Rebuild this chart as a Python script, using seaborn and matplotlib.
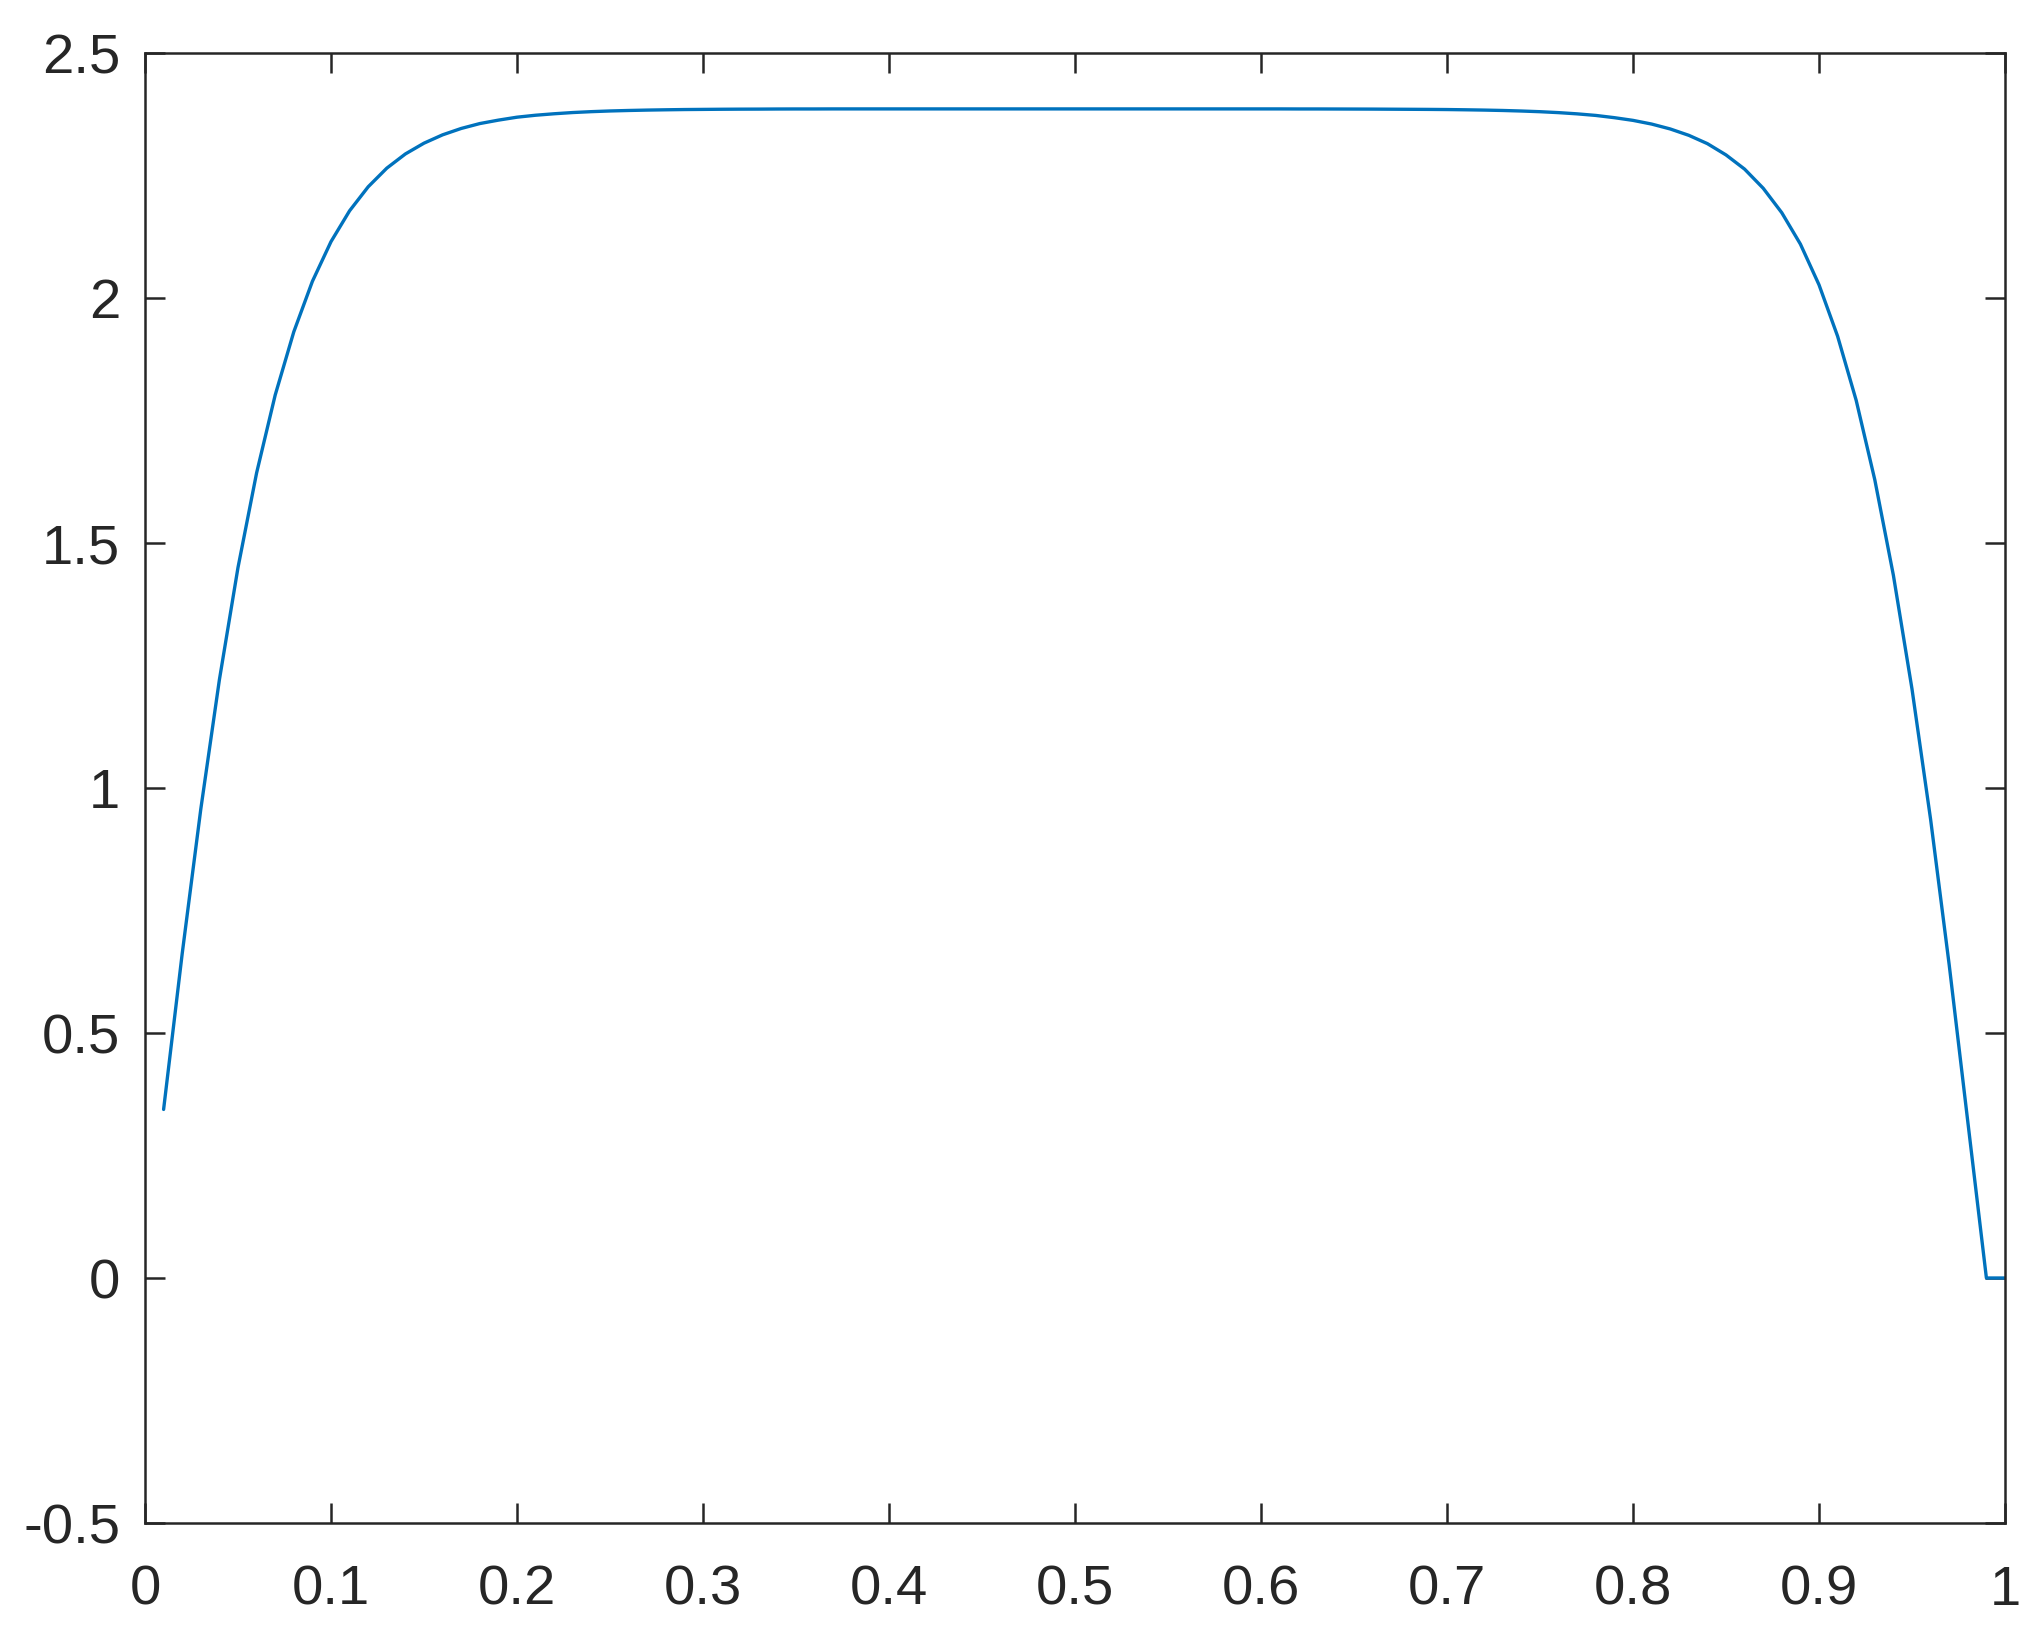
import numpy as np
import pandas as pd
import matplotlib
matplotlib.use("Agg")
import matplotlib.pyplot as plt
import seaborn as sns

# curve values (grid step 0.01)
x_vals = [0.01, 0.02, 0.03, 0.04, 0.05, 0.06, 0.07, 0.08, 0.09, 0.10,
          0.11, 0.12, 0.13, 0.14, 0.15, 0.16, 0.17, 0.18, 0.19, 0.20,
          0.21, 0.22, 0.23, 0.24, 0.25, 0.26, 0.27, 0.28, 0.29, 0.30,
          0.31, 0.32, 0.33, 0.34, 0.35, 0.36, 0.37, 0.38, 0.39, 0.40,
          0.41, 0.42, 0.43, 0.44, 0.45, 0.46, 0.47, 0.48, 0.49, 0.50,
          0.51, 0.52, 0.53, 0.54, 0.55, 0.56, 0.57, 0.58, 0.59, 0.60,
          0.61, 0.62, 0.63, 0.64, 0.65, 0.66, 0.67, 0.68, 0.69, 0.70,
          0.71, 0.72, 0.73, 0.74, 0.75, 0.76, 0.77, 0.78, 0.79, 0.80,
          0.81, 0.82, 0.83, 0.84, 0.85, 0.86, 0.87, 0.88, 0.89, 0.90,
          0.91, 0.92, 0.93, 0.94, 0.95, 0.96, 0.97, 0.98, 0.99, 1.00]
y_vals = [0.344, 0.662, 0.957, 1.221, 1.450, 1.643, 1.802, 1.931, 2.034, 2.115,
          2.178, 2.227, 2.265, 2.294, 2.316, 2.333, 2.346, 2.356, 2.363, 2.369,
          2.373, 2.376, 2.3785, 2.3803, 2.3817, 2.3827, 2.3835, 2.3841, 2.3846, 2.3849,
          2.3852, 2.3854, 2.3855, 2.3857, 2.3858, 2.3858, 2.3859, 2.3859, 2.3859, 2.3859,
          2.3859, 2.3859, 2.3859, 2.3859, 2.3859, 2.3859, 2.3859, 2.3859, 2.3859, 2.3859,
          2.3859, 2.3859, 2.3859, 2.3859, 2.3859, 2.3859, 2.3859, 2.3859, 2.3859, 2.3859,
          2.3859, 2.3858, 2.3858, 2.3857, 2.3856, 2.3855, 2.3853, 2.3851, 2.3849, 2.3846,
          2.3841, 2.3835, 2.3827, 2.3816, 2.3802, 2.3783, 2.3758, 2.3726, 2.368, 2.3625,
          2.355, 2.345, 2.332, 2.315, 2.292, 2.263, 2.224, 2.174, 2.110, 2.027,
          1.922, 1.791, 1.629, 1.434, 1.202, 0.936, 0.639, 0.319, 0.0, 0.0]

x_ticks = [0, 0.1, 0.2, 0.3, 0.4, 0.5, 0.6, 0.7, 0.8, 0.9, 1]
x_labels = ["0", "0.1", "0.2", "0.3", "0.4", "0.5", "0.6", "0.7", "0.8", "0.9", "1"]
y_ticks = [-0.5, 0, 0.5, 1, 1.5, 2, 2.5]
y_labels = ["-0.5", "0", "0.5", "1", "1.5", "2", "2.5"]

df = pd.DataFrame({"x": x_vals, "y": y_vals})

sns.set_theme(style="white")
plt.rcParams["font.family"] = ["Liberation Sans", "DejaVu Sans"]

dark = "#262626"
fig = plt.figure(figsize=(2041 / 300, 1644 / 300), dpi=300)
ax = fig.add_axes([145 / 2041, 121 / 1644, 1860 / 2041, 1470 / 1644])

sns.lineplot(data=df, x="x", y="y", ax=ax, color="#0072BD", linewidth=0.8,
             estimator=None, sort=False)

ax.set_xlim(0, 1)
ax.set_ylim(-0.5, 2.5)
ax.set_xticks(x_ticks)
ax.set_xticklabels(x_labels)
ax.set_yticks(y_ticks)
ax.set_yticklabels(y_labels)
ax.set_xlabel("")
ax.set_ylabel("")

for s in ax.spines.values():
    s.set_visible(True)
    s.set_color(dark)
    s.set_linewidth(0.6)

ax.tick_params(direction="in", length=4.8, width=0.6, color=dark,
               labelcolor=dark, labelsize=13.5, top=True, right=True,
               bottom=True, left=True)
ax.tick_params(axis="x", pad=10)
ax.tick_params(axis="y", pad=6)

fig.savefig("out.png", dpi=300, facecolor="white")
